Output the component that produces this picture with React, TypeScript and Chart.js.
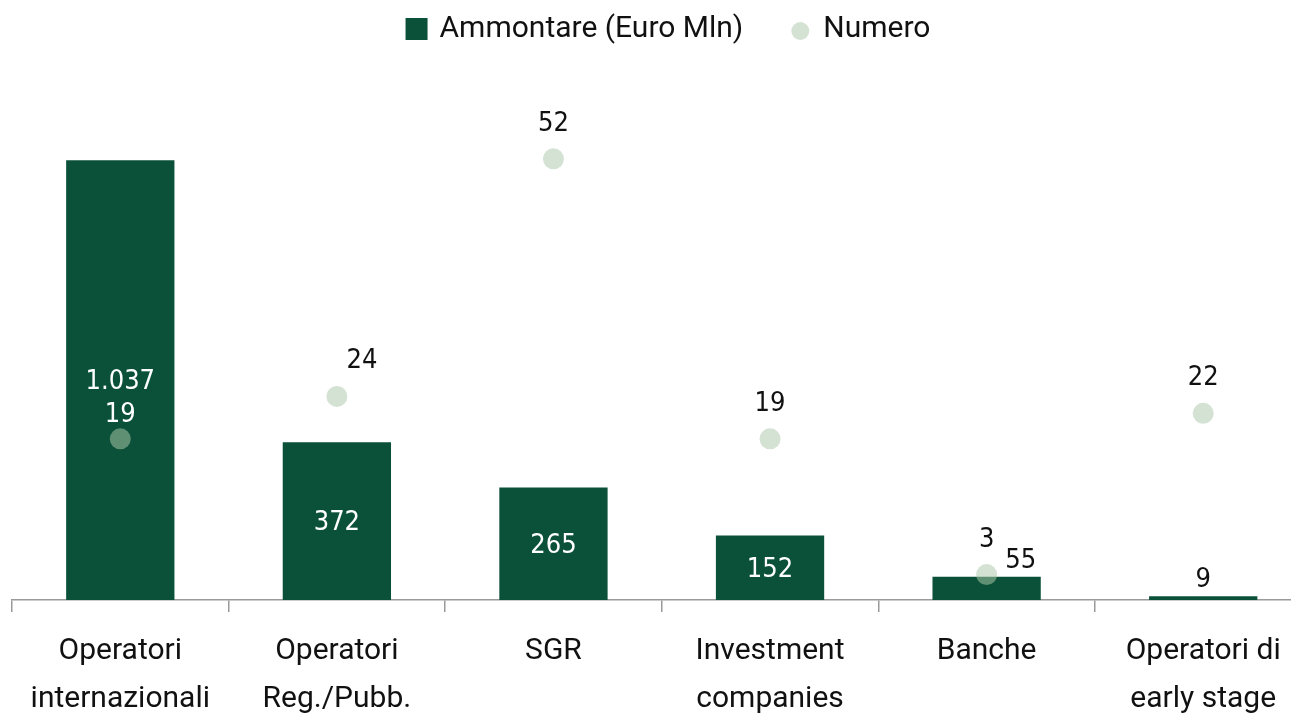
import React, { useEffect, useRef } from "react";
import { Chart, registerables } from "chart.js";

Chart.register(...registerables);

const categories: string[][] = [
  ["Operatori", "internazionali"],
  ["Operatori", "Reg./Pubb."],
  ["SGR"],
  ["Investment", "companies"],
  ["Banche"],
  ["Operatori di", "early stage"],
];
const ammontare: number[] = [1037, 372, 265, 152, 55, 9];
const numero: number[] = [19, 24, 52, 19, 3, 22];
const seriesNames: string[] = ["Ammontare (Euro Mln)", "Numero"];

const BAR_COLOR = "#0b5139";
const POINT_COLOR = "rgba(171,200,170,0.53)";
const POINT_LEGEND = "#d4e2d3";
const AXIS_FONT = "Roboto, 'Open Sans', sans-serif";
const LABEL_FONT = "'DejaVu Sans Condensed', 'DejaVu Sans', sans-serif";

const W = 1322;
const H = 738;

const fmt = (v: number) => v.toLocaleString("it-IT");

const labelPlugin = {
  id: "customLabels",
  afterDatasetsDraw(chart: any) {
    const ctx = chart.ctx;
    const barMeta = chart.getDatasetMeta(1);
    const ptMeta = chart.getDatasetMeta(0);
    ctx.save();
    ctx.font = `27px ${LABEL_FONT}`;
    ctx.textAlign = "center";
    ctx.textBaseline = "middle";
    const shift = 2;
    const barLabelY: number[] = [];
    barMeta.data.forEach((bar: any, i: number) => {
      const top = bar.y;
      const base = bar.base;
      const h = base - top;
      let x = bar.x;
      let y: number;
      let color: string;
      if (h > 50) {
        y = (top + base) / 2;
        color = "#ffffff";
      } else {
        y = top - 18;
        color = "#111111";
        const pt = ptMeta.data[i];
        if (pt && Math.abs(pt.y - y) < 40) x += 34;
      }
      barLabelY[i] = y;
      ctx.fillStyle = color;
      ctx.fillText(fmt(ammontare[i]), x, y + shift);
    });
    const nudgeX: Record<number, number> = { 1: 25 };
    ptMeta.data.forEach((pt: any, i: number) => {
      const bar = barMeta.data[i];
      let y = pt.y - 37;
      let color = "#111111";
      if (bar && pt.y > bar.y + 20) {
        color = "#ffffff";
        if (Math.abs(y - barLabelY[i]) < 30) y = barLabelY[i] + 33;
      }
      ctx.fillStyle = color;
      ctx.fillText(fmt(numero[i]), pt.x + (nudgeX[i] || 0), y + shift);
    });
    ctx.restore();
  },
  afterDraw(chart: any) {
    const ctx = chart.ctx;
    ctx.save();
    ctx.font = `30px ${AXIS_FONT}`;
    ctx.textBaseline = "middle";
    ctx.textAlign = "left";
    const w1 = ctx.measureText(seriesNames[0]).width;
    const w2 = ctx.measureText(seriesNames[1]).width;
    const box = 22;
    const gap = 12;
    const between = 48;
    const total = box + gap + w1 + between + 20 + gap + w2;
    const cy = 29;
    let x = 668 - total / 2;
    ctx.fillStyle = BAR_COLOR;
    ctx.fillRect(x, cy - box / 2, box, box);
    x += box + gap;
    ctx.fillStyle = "#111111";
    ctx.fillText(seriesNames[0], x, cy);
    x += w1 + between;
    ctx.fillStyle = POINT_LEGEND;
    ctx.beginPath();
    ctx.arc(x + 9, cy + 2, 9, 0, Math.PI * 2);
    ctx.fill();
    x += 20 + gap;
    ctx.fillStyle = "#111111";
    ctx.fillText(seriesNames[1], x, cy);
    ctx.restore();
  },
};

export default function App() {
  const ref = useRef<HTMLCanvasElement | null>(null);
  useEffect(() => {
    document.body.style.margin = "0";
    document.body.style.overflow = "hidden";
    if (!ref.current) return;
    const chart = new Chart(ref.current, {
      type: "bar",
      data: {
        labels: categories,
        datasets: [
          {
            type: "line",
            label: seriesNames[1],
            data: numero,
            yAxisID: "y1",
            showLine: false,
            pointRadius: 10.5,
            pointHoverRadius: 10.5,
            pointBorderWidth: 0,
            pointBackgroundColor: POINT_COLOR,
            borderColor: POINT_COLOR,
            backgroundColor: POINT_COLOR,
            order: 0,
          } as any,
          {
            type: "bar",
            label: seriesNames[0],
            data: ammontare,
            yAxisID: "y",
            backgroundColor: BAR_COLOR,
            barPercentage: 0.5,
            categoryPercentage: 1,
            order: 1,
          },
        ],
      },
      options: {
        responsive: false,
        animation: false,
        layout: { padding: { left: 12, right: 0, top: 91, bottom: 0 } },
        plugins: {
          legend: { display: false },
          tooltip: { enabled: false },
        },
        scales: {
          x: {
            offset: true,
            border: { display: true, color: "#9a9a9a", width: 1.5 },
            grid: {
              offset: true,
              drawOnChartArea: false,
              drawTicks: true,
              tickLength: 12,
              color: "#9a9a9a",
              lineWidth: 1.5,
            },
            ticks: {
              color: "#111111",
              font: { family: AXIS_FONT, size: 30, lineHeight: 1.6 },
              padding: 15,
              maxRotation: 0,
              autoSkip: false,
            },
          },
          y: { display: false, min: 0, max: 1200 },
          y1: { display: false, min: 0, max: 60 },
        },
      },
      plugins: [labelPlugin],
    });
    return () => chart.destroy();
  }, []);
  return (
    <div style={{ position: "absolute", left: 0, top: 0, width: W, height: H }}>
      <canvas ref={ref} width={W} height={H} style={{ width: W, height: H }} />
    </div>
  );
}
